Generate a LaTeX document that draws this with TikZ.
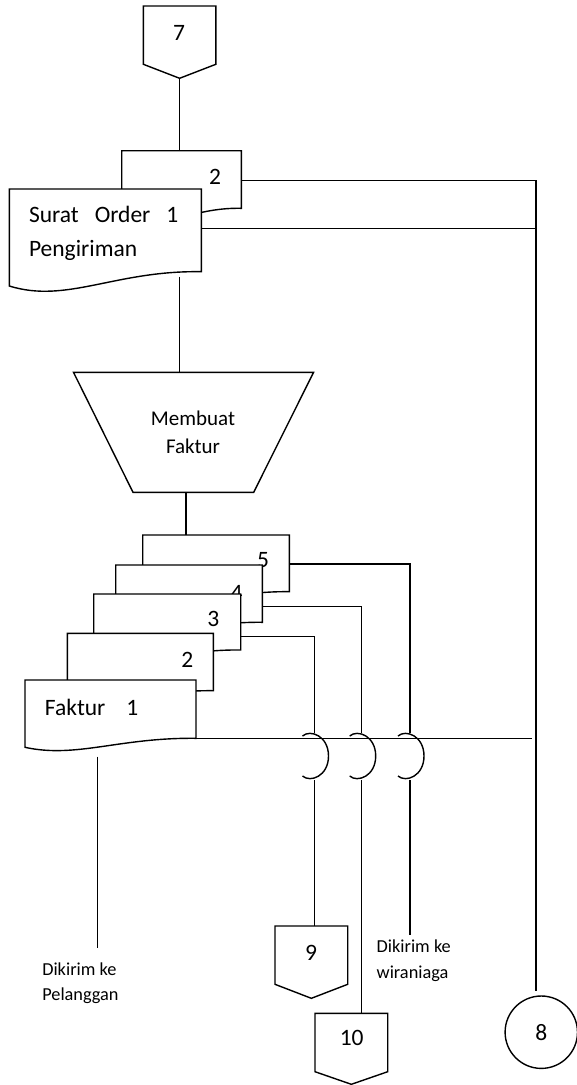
\documentclass[tikz,border=0pt]{standalone}
\usepackage{fontspec}
\setmainfont{Carlito}

% document symbol: top-left x, top y, right x, bottom y at right, bottom y at left
\newcommand\drawdoc[5]{%
  \path[outline] (#1,#2) -- (#3,#2) -- (#3,#4)
    .. controls ({#1+0.55*(#3-#1)},{#4-0.1*(#5-#4)}) and ({#1+0.3*(#3-#1)},{#5+1.25*(#5-#4)}) .. (#1,#5)
    -- cycle;}
% off-page connector: left x, right x, top y, side bottom y, tip y
\newcommand\drawoffpage[5]{%
  \path[outline] (#1,#3) -- (#2,#3) -- (#2,#4) -- ({(#1+#2)/2},#5) -- (#1,#4) -- cycle;}
% hop of a vertical wire over the horizontal bus
\newcommand\bridgearc[1]{%
  \draw[wire] ({#1-12},736) .. controls ({#1-4},729) and ({#1+14},736) .. ({#1+14},756)
    .. controls ({#1+14},776) and ({#1-4},783) .. ({#1-12},776);}

\begin{document}
\begin{tikzpicture}[x=1pt,y=-1pt,
  outline/.style={draw=black,line width=1.4pt,fill=white,line join=miter},
  wire/.style={draw=black,line width=1.4pt},
  lbl/.style={inner sep=0pt,outer sep=0pt,text=black},
  big/.style={lbl,font=\fontsize{23.5}{28}\selectfont},
  mid/.style={lbl,font=\fontsize{21}{25}\selectfont},
  small/.style={lbl,font=\fontsize{18.3}{22}\selectfont}]
\useasboundingbox (0,0) rectangle (576,1085);

% connection points
\coordinate (p7) at (179.4,78.3);
\coordinate (so2top) at (179.4,150.7);
\coordinate (so2r) at (241.3,180.7);
\coordinate (so1r) at (201.3,228.3);
\coordinate (so1b) at (179.7,276.7);
\coordinate (trtop) at (179.7,372.3);
\coordinate (trbot) at (186,492.3);
\coordinate (f5top) at (186,535);
\coordinate (f5r) at (289.3,564);
\coordinate (f4r) at (262.3,606.7);
\coordinate (f3r) at (240.7,636.7);
\coordinate (f1r) at (196,738.3);
\coordinate (f1b) at (97.3,756.7);
\coordinate (pelEnd) at (97.3,948.3);
\coordinate (busEnd) at (532,738.3);
\coordinate (c8top) at (536,990.7);
\coordinate (jaT) at (314.5,733); \coordinate (jaB) at (314.5,780); \coordinate (c9top) at (314.5,926);
\coordinate (jbT) at (361.7,733); \coordinate (jbB) at (361.7,780); \coordinate (c10top) at (361.7,1013.3);
\coordinate (jcT) at (410,733);   \coordinate (jcB) at (410,780);   \coordinate (wirEnd) at (410,935);

% wires
\draw[wire] (p7) -- (so2top);
\draw[wire] (so2r) -| (c8top);
\draw[wire] (so1r) -- (so1r -| c8top);
\draw[wire] (so1b) -- (trtop);
\draw[wire] (trbot) -- (f5top);
\draw[wire] (f5r) -| (jcT);
\draw[wire] (f4r) -| (jbT);
\draw[wire] (f3r) -| (jaT);
\draw[wire] (f1r) -- (busEnd);
\draw[wire] (jaB) -- (c9top);
\draw[wire] (jbB) -- (c10top);
\draw[wire] (jcB) -- (wirEnd);
\draw[wire] (f1b) -- (pelEnd);
\bridgearc{314.5}
\bridgearc{361.7}
\bridgearc{410}

% off-page connector 7
\drawoffpage{143.4}{215.8}{6}{64.3}{78.3}
\node[big] (t7) at (179,32.5) {7};

% Surat Order Pengiriman, two copies
\drawdoc{121.7}{150.7}{241.3}{208.3}{220}
\node[big] (so2lbl) at (215,177.3) {2};
\drawdoc{9.3}{189}{201.3}{271.7}{286}
\node[big,anchor=base west] (so1a) at (29,222) {Surat\hskip16pt Order\hskip16pt 1};
\node[big,anchor=base west] (so1b-txt) at (29,256) {Pengiriman};

% manual operation
\path[outline] (73.5,372.3) -- (313.6,372.3) -- (253.7,492.3) -- (133,492.3) -- cycle;
\node[mid,anchor=base] (pr1) at (193,425) {Membuat};
\node[mid,anchor=base] (pr2) at (193,453.5) {Faktur};

% Faktur, five copies
\drawdoc{142.7}{535}{289.3}{591.7}{601}
\node[big] (f5lbl) at (263,560) {5};
\drawdoc{115.7}{565}{262.3}{622.3}{631}
\node[big] (f4lbl) at (236.7,592.5) {4};
\drawdoc{93.75}{594}{240.7}{650}{659}
\node[big] (f3lbl) at (213.3,619.3) {3};
\drawdoc{67.3}{633.3}{213.3}{690.7}{699}
\node[big] (f2lbl) at (187.3,660) {2};
\drawdoc{25}{680}{196}{738.3}{747.3}
\node[big,anchor=base west] (f1lbl) at (45,715) {Faktur\hskip21pt 1};

% destinations
\node[small,anchor=base west] (pel1) at (42.3,975) {Dikirim ke};
\node[small,anchor=base west] (pel2) at (42.3,1000.5) {Pelanggan};
\node[small,anchor=base west] (wir1) at (376.7,952) {Dikirim ke};
\node[small,anchor=base west] (wir2) at (376.7,978) {wiraniaga};

\drawoffpage{275}{347.7}{926}{984.3}{998.3}
\node[big] (t9) at (311,953.3) {9};
\drawoffpage{315}{387.7}{1013.3}{1071.7}{1084.3}
\node[big] (t10) at (351.7,1038.3) {10};

\node[draw=black,line width=1.4pt,circle,minimum size=72.4pt,inner sep=0pt,
      font=\fontsize{23.5}{28}\selectfont] (c8) at (541.3,1032.2) {8};
\end{tikzpicture}
\end{document}
